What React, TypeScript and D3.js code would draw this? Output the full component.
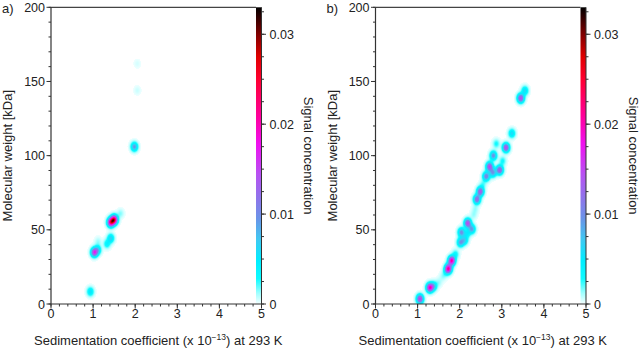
import React, { useMemo } from "react";
import * as d3 from "d3";

// ---- axis ticks ----
const S_TICKS = [0, 1, 2, 3, 4, 5];
const S_MINOR = d3.range(0, 5.001, 0.2);
const MW_TICKS = [0, 50, 100, 150, 200];
const MW_MINOR = d3.range(0, 200.001, 10);
const CONC_TICKS = [0, 0.01, 0.02, 0.03];
const CONC_MINOR = d3.range(0, 0.0326, 0.0025);
const CONC_MAX = 0.033;

// ---- colour map (signal concentration -> colour) ----
const COLOR_STOPS = [0, 0.0012, 0.0028, 0.0048, 0.0072, 0.0095, 0.0115, 0.0145, 0.0178, 0.0207, 0.025, 0.0275, 0.03, 0.033];
const COLOR_VALUES = [
  "#f6ffff", "#a0ffff", "#10fbff", "#00eeff", "#40c8f2", "#6a94e8", "#8a78ea", "#b850f2",
  "#f010f0", "#ff00a0", "#ff0030", "#e00000", "#800000", "#000000",
];

// ---- panel a peaks: sedimentation coefficient, molecular weight, concentration ----
const A_S = [0.936, 1.03, 1.11, 1.12, 1.33, 1.42, 1.42, 1.5, 1.65, 1.98, 2.05, 2.05];
const A_MW = [8.3, 34.8, 36.5, 42, 40.5, 44.3, 55, 56.8, 61, 106, 144, 162];
const A_C = [0.0055, 0.016, 0.0065, 0.0012, 0.004, 0.0065, 0.021, 0.025, 0.0015, 0.0095, 0.0006, 0.00045];

// ---- panel b peaks ----
const B_S = [
  1.056, 1.29, 1.38, 1.5, 1.6, 1.68, 1.73, 1.81, 1.9, 2.02, 2.12, 2.04, 2.18, 2.19, 2.29,
  2.33, 2.37, 2.41, 2.49, 2.55, 2.63, 2.71, 2.79, 2.8, 2.87, 2.95, 3.02, 3.1, 3.24, 3.45, 3.55,
];
const B_MW = [
  3.4, 11.0, 12.0, 14.5, 18.5, 21.5, 23.8, 29.2, 33.5, 41.5, 43.0, 48.3, 47.5, 54.5, 50.5,
  60, 64, 70.5, 75.8, 80.5, 86.0, 92.6, 88.5, 100, 108, 90.3, 96.4, 105.4, 115, 138.7, 143.8,
];
const B_C = [
  0.016, 0.019, 0.007, 0.0012, 0.0012, 0.0025, 0.021, 0.021, 0.0035, 0.009, 0.006, 0.01, 0.004, 0.015, 0.009,
  0.0012, 0.0012, 0.013, 0.014, 0.002, 0.011, 0.015, 0.009, 0.01, 0.003, 0.014, 0.003, 0.015, 0.006, 0.015, 0.006,
];

const SIGMA_S = 0.054;
const SIGMA_MW = 2.0;

const FONT = "'Liberation Sans', Arial, sans-serif";
const AXIS = "#333";
const TXT = "#222";

type PanelProps = { dx: number; tag: string; s: number[]; mw: number[]; c: number[] };

function Panel({ dx, tag, s, mw, c }: PanelProps) {
  const left = 51 + dx;
  const right = 261.5 + dx;
  const top = 7.3;
  const bottom = 304;
  const cbLeft = right - 5.5;

  const x = d3.scaleLinear().domain([0, 5]).range([left, right]);
  const y = d3.scaleLinear().domain([0, 200]).range([bottom, top]);
  const cy = d3.scaleLinear().domain([0, CONC_MAX]).range([bottom, top]);
  const color = d3
    .scaleLinear<string>()
    .domain(COLOR_STOPS)
    .range(COLOR_VALUES)
    .interpolate(d3.interpolateRgb)
    .clamp(true);

  const cells = useMemo(() => {
    const out: { px: number; py: number; v: number }[] = [];
    const x0 = Math.floor(left);
    const x1 = Math.floor(cbLeft);
    for (let px = x0; px < x1; px++) {
      const sv = x.invert(px + 0.5);
      for (let py = Math.floor(top); py < bottom; py++) {
        const mv = y.invert(py + 0.5);
        let v = 0;
        for (let i = 0; i < s.length; i++) {
          const a = (sv - s[i]) / SIGMA_S;
          const b = (mv - mw[i]) / SIGMA_MW;
          const e = a * a + b * b;
          if (e < 30) v += c[i] * Math.exp(-0.5 * e);
        }
        if (v > 0.0001) out.push({ px, py, v });
      }
    }
    return out;
  }, [dx]);

  const gid = `cbar-${tag}`;

  return (
    <g>
      <defs>
        <linearGradient id={gid} x1="0" y1="1" x2="0" y2="0">
          {COLOR_STOPS.map((v, i) => (
            <stop key={i} offset={v / CONC_MAX} stopColor={COLOR_VALUES[i]} />
          ))}
        </linearGradient>
      </defs>

      {/* heat map */}
      <g shapeRendering="crispEdges">
        {cells.map((d, i) => (
          <rect key={i} x={d.px} y={d.py} width={1} height={1} fill={color(d.v)} />
        ))}
      </g>

      {/* colour bar */}
      <rect x={cbLeft} y={top} width={right - cbLeft} height={bottom - top} fill={`url(#${gid})`} />
      <line x1={right} x2={right} y1={top} y2={bottom} stroke={AXIS} strokeWidth={1} />
      {CONC_MINOR.map((t) => (
        <line key={"cm" + t} x1={right} x2={right + 2.5} y1={cy(t)} y2={cy(t)} stroke={AXIS} strokeWidth={1} />
      ))}
      {CONC_TICKS.map((t) => (
        <g key={"ct" + t}>
          <line x1={right} x2={right + 4.5} y1={cy(t)} y2={cy(t)} stroke={AXIS} strokeWidth={1} />
          <text x={right + 8} y={cy(t) + 4.5} fontSize={12.5} fontFamily={FONT} fill={TXT}>
            {t === 0 ? "0" : t.toFixed(2)}
          </text>
        </g>
      ))}
      <text
        transform={`translate(${right + 42.5},${155.7}) rotate(90)`}
        textAnchor="middle"
        fontSize={13}
        fontFamily={FONT}
        fill={TXT}
      >
        Signal concentration
      </text>

      {/* frame */}
      <line x1={left} x2={cbLeft} y1={top} y2={top} stroke="#444" strokeWidth={1.3} />
      <line x1={left} x2={left} y1={top} y2={bottom} stroke={AXIS} strokeWidth={1.2} />
      <line x1={left} x2={right} y1={bottom} y2={bottom} stroke={AXIS} strokeWidth={1.2} />

      {/* x axis */}
      {S_MINOR.map((t) => (
        <line key={"xm" + t} x1={x(t)} x2={x(t)} y1={bottom} y2={bottom + 2.5} stroke={AXIS} strokeWidth={1} />
      ))}
      {S_TICKS.map((t) => (
        <g key={"xt" + t}>
          <line x1={x(t)} x2={x(t)} y1={bottom} y2={bottom + 4.5} stroke={AXIS} strokeWidth={1} />
          <text x={x(t)} y={318} textAnchor="middle" fontSize={12.5} fontFamily={FONT} fill={TXT}>
            {t}
          </text>
        </g>
      ))}
      <text x={(left + right) / 2 + 2} y={344.5} textAnchor="middle" fontSize={13} fontFamily={FONT} fill={TXT}>
        Sedimentation coefficient (x 10
        <tspan fontSize={8.5} dy={-5}>−13</tspan>
        <tspan dy={5}>) at 293 K</tspan>
      </text>

      {/* y axis */}
      {MW_MINOR.map((t) => (
        <line key={"ym" + t} x1={left - 2.5} x2={left} y1={y(t)} y2={y(t)} stroke={AXIS} strokeWidth={1} />
      ))}
      {MW_TICKS.map((t) => (
        <g key={"yt" + t}>
          <line x1={left - 4.5} x2={left} y1={y(t)} y2={y(t)} stroke={AXIS} strokeWidth={1} />
          <text x={left - 6} y={y(t) + 4.5} textAnchor="end" fontSize={12.5} fontFamily={FONT} fill={TXT}>
            {t}
          </text>
        </g>
      ))}
      <text
        transform={`translate(${dx + 12},${155.7}) rotate(-90)`}
        textAnchor="middle"
        fontSize={13}
        fontFamily={FONT}
        fill={TXT}
      >
        Molecular weight [kDa]
      </text>

      <text x={dx + 2} y={12.5} fontSize={13} fontFamily={FONT} fill={TXT}>
        {tag})
      </text>
    </g>
  );
}

export default function App() {
  return (
    <svg width={640} height={350} style={{ position: "absolute", left: 0, top: 0, background: "#fff" }}>
      <rect width={640} height={350} fill="#fff" />
      <Panel dx={0} tag="a" s={A_S} mw={A_MW} c={A_C} />
      <Panel dx={324.5} tag="b" s={B_S} mw={B_MW} c={B_C} />
    </svg>
  );
}
